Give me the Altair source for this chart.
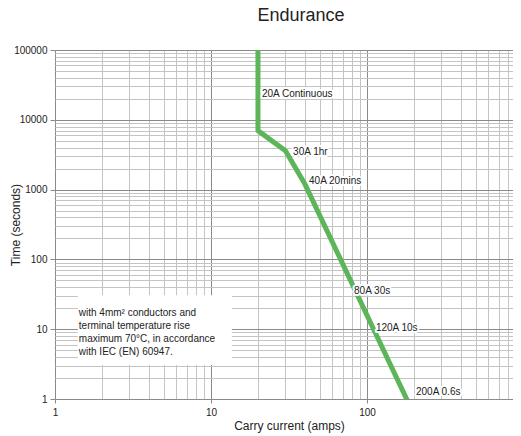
import altair as alt
import pandas as pd

# Curve points (amps, seconds)
curve_amps = [20, 20, 30, 40, 200]
curve_secs = [100000, 7000, 3600, 1200, 0.6]

# Point labels
label_text = ["20A Continuous", "30A 1hr", "40A 20mins", "80A 30s", "120A 10s", "200A 0.6s"]
label_amps = [21.2, 33.6, 42.5, 82.6, 114, 206]
label_secs = [23500, 3490, 1340, 34.9, 10.3, 1.26]

# Note box
note_lines = ["with 4mm² conductors and", "terminal temperature rise",
              "maximum 70°C, in accordance", "with IEC (EN) 60947."]
note_x0, note_x1 = 1.4, 13.6
note_y0, note_y1 = 3.06, 30.6

x_ticks = [m * 10 ** e for e in range(0, 3) for m in range(1, 10)] + [1000]
y_ticks = [m * 10 ** e for e in range(0, 5) for m in range(1, 10)] + [100000]

FONT = "Liberation Sans"
is_decade = "abs(log(datum.value)/LN10 - round(log(datum.value)/LN10)) < 0.001"

xscale = alt.Scale(type="log", domain=[1, 1000], nice=False, range=[0, 468])
yscale = alt.Scale(type="log", domain=[1, 100000], nice=False)

xaxis = alt.Axis(
    values=x_ticks, title="Carry current (amps)", grid=True,
    gridColor={"condition": {"test": is_decade, "value": "#8a8a8a"}, "value": "#c4c4c4"},
    gridWidth=1, tickColor="#8a8a8a",
    tickOpacity={"condition": {"test": is_decade, "value": 1}, "value": 0},
    labelExpr=f"({is_decade}) ? format(datum.value, 'd') : ''",
    labelFont=FONT, labelFontSize=10, labelColor="#222", labelPadding=4,
    titleFont=FONT, titleFontSize=12, titleFontWeight="normal", titleColor="#222",
    titlePadding=3, titleX=234, domain=False, tickSize=4, labelFlush=False, labelOverlap=False,
)
yaxis = alt.Axis(
    values=y_ticks, title="Time (seconds)", grid=True,
    gridColor={"condition": {"test": is_decade, "value": "#8a8a8a"}, "value": "#c4c4c4"},
    gridWidth=1, tickColor="#8a8a8a",
    tickOpacity={"condition": {"test": is_decade, "value": 1}, "value": 0},
    labelExpr=f"({is_decade}) ? format(datum.value, 'd') : ''",
    labelFont=FONT, labelFontSize=10, labelColor="#222", labelPadding=3,
    titleFont=FONT, titleFontSize=12, titleFontWeight="normal", titleColor="#222",
    titleX=-33, domain=False, tickSize=5, labelFlush=False, labelOverlap=False,
)

curve_df = pd.DataFrame({"amps": curve_amps, "secs": curve_secs, "order": range(len(curve_amps))})
labels_df = pd.DataFrame({"text": label_text, "amps": label_amps, "secs": label_secs})
box_df = pd.DataFrame({"x0": [note_x0], "x1": [note_x1], "y0": [note_y0], "y1": [note_y1]})
note_df = pd.DataFrame({"text": ["\n".join(note_lines)], "x": [note_x0], "y": [note_y1]})

base_grid = alt.Chart(curve_df).mark_point(opacity=0).encode(
    x=alt.X("amps:Q", scale=xscale, axis=xaxis),
    y=alt.Y("secs:Q", scale=yscale, axis=yaxis),
)

box = alt.Chart(box_df).mark_rect(color="white").encode(
    x=alt.X("x0:Q", scale=xscale), x2="x1:Q",
    y=alt.Y("y0:Q", scale=yscale), y2="y1:Q",
)

note = alt.Chart(note_df).mark_text(
    align="left", baseline="top", font=FONT, fontSize=10, color="#222",
    lineHeight=13, dx=1, dy=13, lineBreak="\n",
).encode(x=alt.X("x:Q", scale=xscale), y=alt.Y("y:Q", scale=yscale), text="text:N")

line = alt.Chart(curve_df).mark_line(color="#5db55a", strokeWidth=5, clip=True, strokeJoin="round").encode(
    x=alt.X("amps:Q", scale=xscale), y=alt.Y("secs:Q", scale=yscale), order="order:Q",
)

halo = alt.Chart(labels_df).mark_text(
    align="left", baseline="middle", font=FONT, fontSize=10, color="white",
    stroke="white", strokeWidth=4, strokeJoin="round",
).encode(x=alt.X("amps:Q", scale=xscale), y=alt.Y("secs:Q", scale=yscale), text="text:N")

labels = alt.Chart(labels_df).mark_text(
    align="left", baseline="middle", font=FONT, fontSize=10, color="#222",
).encode(x=alt.X("amps:Q", scale=xscale), y=alt.Y("secs:Q", scale=yscale), text="text:N")

chart = alt.layer(base_grid, box, note, line, halo, labels).properties(
    width=458, height=349,
    title=alt.TitleParams("Endurance", font=FONT, fontSize=18, fontWeight="normal",
                          color="#222", anchor="middle", dx=17, offset=20),
    padding={"left": 47, "top": 42, "right": 0, "bottom": 36},
    autosize=alt.AutoSizeParams(type="none"),
).configure_view(stroke=None)

chart.save("out.html", embed_options={"renderer": "svg", "actions": False})
